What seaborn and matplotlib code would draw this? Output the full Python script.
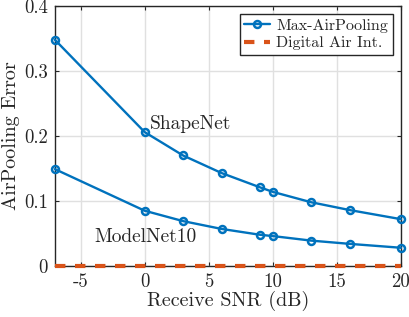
import matplotlib
matplotlib.use("Agg")
import matplotlib.pyplot as plt
import seaborn as sns
import pandas as pd

snr = [-7, 0, 3, 6, 9, 10, 13, 16, 20]
shapenet = [0.348, 0.206, 0.170, 0.143, 0.121, 0.114, 0.098, 0.086, 0.072]
modelnet10 = [0.149, 0.085, 0.069, 0.057, 0.048, 0.046, 0.039, 0.034, 0.028]
digital = [0, 0, 0, 0, 0, 0, 0, 0, 0]

sns.set_style("whitegrid")
plt.rcParams["font.family"] = ["cmr10", "DejaVu Serif"]
plt.rcParams["axes.formatter.use_mathtext"] = True
plt.rcParams["mathtext.fontset"] = "cm"

blue = "#0072BD"
orange = "#D95319"

df = pd.DataFrame({"snr": snr, "shapenet": shapenet, "modelnet10": modelnet10, "digital": digital})

fig = plt.figure(figsize=(4.1, 3.17), dpi=100)
ax = fig.add_axes([0.134, 0.161, 0.844, 0.820])

sns.lineplot(data=df, x="snr", y="shapenet", color=blue, marker="o", markersize=5,
             markerfacecolor="none", markeredgecolor=blue, markeredgewidth=1.8,
             linewidth=1.7, label="Max-AirPooling", ax=ax)
sns.lineplot(data=df, x="snr", y="modelnet10", color=blue, marker="o", markersize=5,
             markerfacecolor="none", markeredgecolor=blue, markeredgewidth=1.8,
             linewidth=1.7, ax=ax)
sns.lineplot(data=df, x="snr", y="digital", color=orange, linestyle=(0, (2.5, 2.3)),
             linewidth=3, label="Digital Air Int.", ax=ax)
for ln in ax.lines:
    ln.set_clip_on(False)
    ln.set_zorder(10)

ax.text(0.4, 0.218, "ShapeNet", fontsize=14, va="center")
ax.text(-3.9, 0.045, "ModelNet10", fontsize=14, va="center")

ax.set_xlim(-7, 20)
ax.set_ylim(0, 0.4)
ax.set_xticks([-5, 0, 5, 10, 15, 20])
ax.set_yticks([0, 0.1, 0.2, 0.3, 0.4])
ax.set_xticklabels(["-5", "0", "5", "10", "15", "20"])
ax.set_yticklabels(["0", "0.1", "0.2", "0.3", "0.4"])
ax.set_xlabel("Receive SNR (dB)", fontsize=14.5, labelpad=0)
ax.set_ylabel("AirPooling Error", fontsize=14.5, labelpad=3)
ax.tick_params(labelsize=13.5, direction="in", length=3, top=True, right=True,
               bottom=True, left=True, color="#262626", pad=5)
ax.grid(True, color="#e0e0e0", linewidth=1)
for s in ax.spines.values():
    s.set_color("#262626")
    s.set_linewidth(1)

leg = ax.legend(loc="upper right", fontsize=11.5, frameon=True, fancybox=False,
                edgecolor="#262626", handlelength=1.6, borderpad=0.3,
                labelspacing=0.2, handletextpad=0.4, borderaxespad=0.5)
leg.get_frame().set_linewidth(1)
leg.get_frame().set_alpha(1)

fig.savefig("out.png", dpi=100)
